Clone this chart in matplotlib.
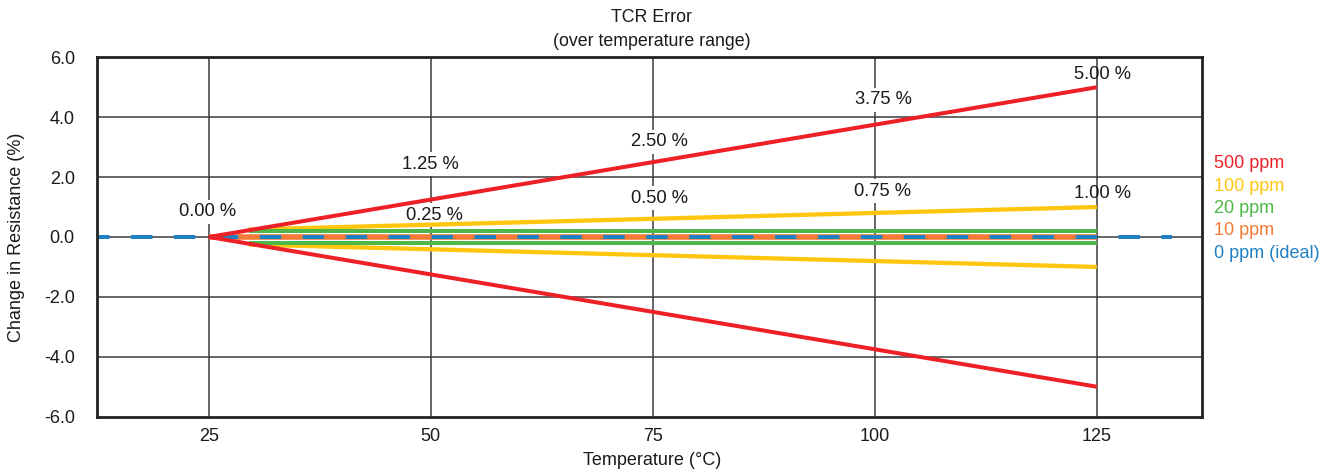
import matplotlib
matplotlib.use("Agg")
import matplotlib.pyplot as plt

plt.rcParams['font.family'] = ['Liberation Sans', 'DejaVu Sans']
plt.rcParams['axes.unicode_minus'] = False

# ---- data ----
t_ref = 25
t_end = 125
red_end = [5.0, -5.0]                  # 500 ppm at 125 C
yellow_x = [29.5, 125]
yellow_y = [0.25, 1.0]                 # 100 ppm
green_x = [29.5, 125]
green_y = [0.2, 0.2]                   # 20 ppm
orange_x = [25, 125]
orange_y = [0.0, 0.0]                  # 10 ppm
blue_x = [12.5, 133.5]
blue_y = [0.0, 0.0]                    # 0 ppm (ideal)

xticks = [25, 50, 75, 100, 125]
yticks = [-6, -4, -2, 0, 2, 4, 6]

red_labels = ["0.00 %", "1.25 %", "2.50 %", "3.75 %", "5.00 %"]
yellow_labels = ["0.25 %", "0.50 %", "0.75 %", "1.00 %"]
legend_names = ["500 ppm", "100 ppm", "20 ppm", "10 ppm", "0 ppm (ideal)"]

c_red = '#ED2027'
c_yellow = '#FFC60F'
c_green = '#4DB848'
c_orange = '#F47A35'
c_blue = '#1F80C4'
legend_colors = [c_red, c_yellow, c_green, c_orange, c_blue]

fig = plt.figure(figsize=(13.34, 4.72), dpi=100)
ax = fig.add_axes([0.0727, 0.1172, 0.8281, 0.7614])
ax.set_xlim(12.4, 136.8)
ax.set_ylim(-6, 6)

# grid
for xv in xticks:
    ax.axvline(xv, color='#3a3a3a', lw=1.1, zorder=1)
for yv in yticks[1:-1]:
    ax.axhline(yv, color='#3a3a3a', lw=1.1, zorder=1)

# series
for s in (1, -1):
    ax.plot(yellow_x, [s * v for v in yellow_y], color=c_yellow, lw=3.1, zorder=3,
            solid_capstyle='butt')
    ax.plot(green_x, [s * v for v in green_y], color=c_green, lw=2.9, zorder=4,
            solid_capstyle='butt')
ax.plot(orange_x, orange_y, color=c_orange, lw=4.0, zorder=5, solid_capstyle='butt')
ax.plot(blue_x, blue_y, color=c_blue, lw=2.9, zorder=6,
        linestyle=(2.48, (5.33, 5.33)), dash_capstyle='butt')
for e in red_end:
    ax.plot([t_ref, t_end], [0, e], color=c_red, lw=2.9, zorder=7,
            solid_capstyle='butt')

# value labels
red_pos = [(24.83, 0.70), (50.0, 2.28), (75.75, 3.03), (101.0, 4.43), (125.65, 5.27)]
yel_pos = [(50.35, 0.57), (75.75, 1.14), (100.9, 1.38), (125.65, 1.30)]
box = dict(facecolor='white', edgecolor='none', pad=2.5)
for lab, (x, y) in zip(red_labels, red_pos):
    last = lab == red_labels[-1]
    ax.text(x, y, lab, ha='center', va='baseline', fontsize=13.2, color='#1a1a1a',
            zorder=8 if last else 2, bbox=None if last else box)
for lab, (x, y) in zip(yellow_labels, yel_pos):
    last = lab == yellow_labels[-1]
    ax.text(x, y, lab, ha='center', va='baseline', fontsize=13.2, color='#1a1a1a',
            zorder=8 if last else 2, bbox=None if last else box)

# legend text
for i, (name, col) in enumerate(zip(legend_names, legend_colors)):
    ax.text(1.0114, 0.691 - i * 0.0622, name, transform=ax.transAxes,
            ha='left', va='baseline', fontsize=13, color=col, clip_on=False)

# axes styling
ax.set_xticks(xticks)
ax.set_xticklabels([str(v) for v in xticks])
ax.set_yticks(yticks)
ax.set_yticklabels([f"{v:.1f}" for v in yticks])
ax.tick_params(axis='both', length=0, labelsize=13, colors='#1a1a1a')
ax.tick_params(axis='y', pad=16)
ax.tick_params(axis='x', pad=8)
for sp in ax.spines.values():
    sp.set_linewidth(2.0)
    sp.set_color('#222222')
    sp.set_zorder(10)

ax.set_ylabel("Change in Resistance (%)", fontsize=13, color='#1a1a1a')
ax.yaxis.set_label_coords(-0.065, 0.5)
ax.set_xlabel("Temperature (°C)", fontsize=13, color='#1a1a1a')
ax.xaxis.set_label_coords(0.5025, -0.098)

fig.text(0.4885, 0.954, "TCR Error", ha='center', va='baseline', fontsize=12.8,
         color='#1a1a1a')
fig.text(0.4885, 0.9025, "(over temperature range)", ha='center', va='baseline',
         fontsize=12.8, color='#1a1a1a')

fig.savefig("out.png", dpi=100)
